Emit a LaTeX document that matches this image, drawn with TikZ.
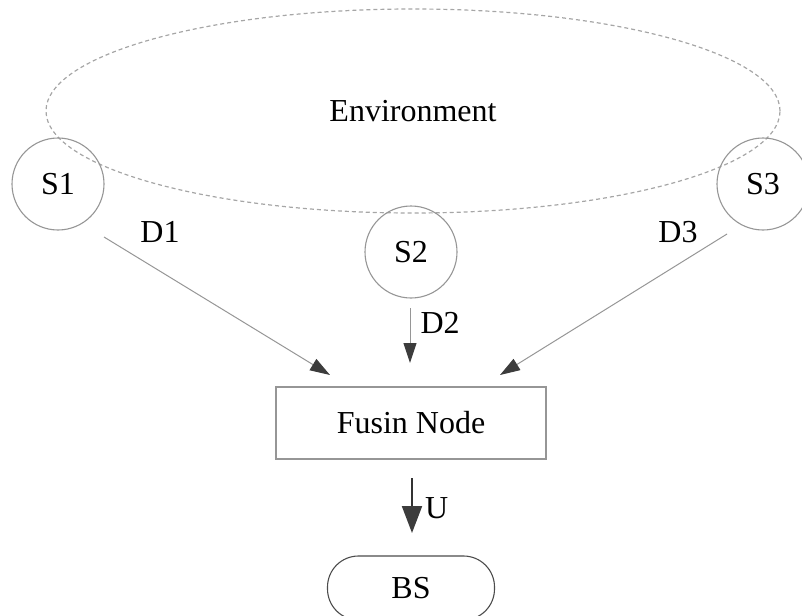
\documentclass[tikz,border=0pt]{standalone}
\usepackage{fontspec}
\setmainfont{Liberation Serif}
\usetikzlibrary{shapes.geometric, arrows.meta, positioning}
\definecolor{edgegray}{RGB}{150,150,150}
\definecolor{tipgray}{RGB}{60,60,60}

\begin{document}
\begin{tikzpicture}[x=1pt, y=-1pt, font=\fontsize{32}{38}\selectfont,
    sensor/.style={draw=edgegray, circle, minimum size=92pt, inner sep=0pt, line width=1.1pt},
    fusebox/.style={draw=edgegray, rectangle, minimum width=270pt, minimum height=72pt, line width=1.1pt},
    sinkbox/.style={draw=black!70, rectangle, rounded corners=31pt, minimum width=167pt, minimum height=64pt, line width=1.1pt},
    feed/.style={draw=edgegray, line width=1pt, -{Triangle[length=20pt, width=13pt, color=tipgray]}},
    uplink/.style={draw=black!80, line width=2pt, -{Triangle[length=27pt, width=20pt, color=tipgray]}}]
    \useasboundingbox (0,0) rectangle (802,615);

    % monitored area
    \node[draw=black!35, dashed, dash pattern=on 4pt off 3pt, line width=1.2pt, ellipse,
          minimum width=734pt, minimum height=204pt, inner sep=0pt] (env) at (413,111) {Environment};

    % sensors, fusion node and base station
    \node[sensor] (s1) at (58,184) {S1};
    \node[sensor] (s2) at (411,252) {S2};
    \node[sensor] (s3) at (763,184) {S3};
    \node[fusebox] (fusion) at (411,423) {Fusin Node};
    \node[sinkbox] (bs) at (411,588) {BS};

    % free ends of the data links
    \coordinate (d1a) at (104,237);
    \coordinate (d1b) at (330,375);
    \coordinate (d2a) at (410,308);
    \coordinate (d2b) at (410,363);
    \coordinate (d3a) at (727,234);
    \coordinate (d3b) at (500,375);
    \coordinate (ua) at (412,478);
    \coordinate (ub) at (412,533);

    \draw[feed] (d1a) -- (d1b);
    \draw[feed] (d2a) -- node[pos=0.27, right, inner sep=10pt] (lbl2) {D2} (d2b);
    \draw[feed] (d3a) -- (d3b);
    \draw[uplink] (ua) -- node[pos=0.55, right, inner sep=12pt] (lblu) {U} (ub);

    \node (lbl1) at (160,232) {D1};
    \node (lbl3) at (678,232) {D3};
\end{tikzpicture}
\end{document}
